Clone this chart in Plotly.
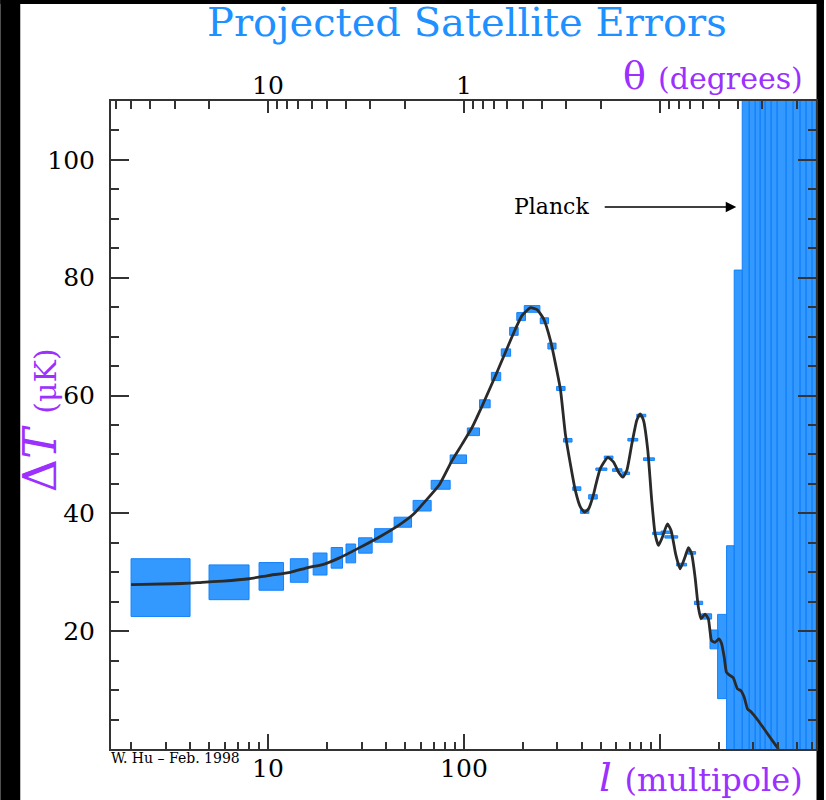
import plotly.graph_objects as go
import math

# ---------------- data ----------------
# theory curve: multipole l and Delta T (muK)
ell_curve = [2, 3.3, 4, 4.6, 5.9, 8, 10, 13, 16, 19, 23, 29, 37, 47, 55, 64, 75, 87, 98,
             110, 124, 145, 163, 183, 198, 218, 236, 255, 276, 293, 311, 329, 349, 370,
             393, 413, 433, 459, 468, 496, 542, 580, 615, 647, 678, 719, 762, 793, 824,
             867, 908, 945, 983, 1030, 1092, 1140, 1203, 1267, 1343, 1397, 1452, 1511,
             1570, 1621, 1699, 1766, 1835, 1910, 2000, 2063, 2128, 2187, 2275, 2366,
             2488, 2589, 2692, 2799, 2931, 3170, 3496, 3928, 4030]
dT_curve = [27.9, 28.05, 28.15, 28.3, 28.5, 28.9, 29.45, 30.0, 30.8, 31.3, 32.4, 34.1, 36.0,
            38.1, 39.8, 42.2, 44.9, 49.0, 51.8, 54.6, 58.3, 63.4, 67.4, 71.3, 73.6, 74.9,
            74.6, 73.0, 69.4, 65.4, 60.9, 53.5, 48.4, 43.9, 41.05, 40.2, 40.8, 43.3, 44.5,
            47.6, 49.5, 48.7, 47.0, 46.15, 47.3, 51.8, 55.8, 56.9, 55.8, 50.7, 42.2, 36.5,
            34.55, 36.0, 38.2, 37.1, 33.1, 30.6, 32.6, 34.2, 33.1, 29.2, 24.1, 22.1, 22.9,
            22.1, 18.4, 18.1, 18.7, 17.9, 15.6, 13.0, 12.5, 12.1, 10.2, 9.9, 8.8, 6.8, 6.25,
            4.84, 2.85, 0.48, 0.0]

# projected satellite (Planck) error boxes: bin edges, value, error
box_lo = [2, 5, 9, 13, 17, 21, 25, 29, 35, 44, 55, 68, 85, 104, 120, 138, 155, 171, 186,
          203, 245, 268, 297, 322, 359, 393, 433, 471, 520, 573, 640, 686, 762, 824, 918,
          1014, 1060, 1217, 1385, 1500, 1632, 1801, 1969, 2188, 2393, 2630, 2855, 3063,
          3247, 3443, 3693, 3962, 4404, 4780, 5189, 5566, 5971]
box_hi = [4, 8, 12, 16, 20, 24, 28, 34, 43, 54, 68, 85, 103, 120, 136, 154, 173, 189, 206,
          244, 270, 295, 328, 356, 395, 434, 479, 536, 576, 640, 700, 771, 847, 937, 1030,
          1140, 1232, 1368, 1521, 1652, 1835, 1985, 2188, 2393, 2630, 2855, 3063, 3247,
          3443, 3693, 3962, 4404, 4780, 5189, 5566, 5971, 6258]
box_val = [27.4, 28.3, 29.3, 30.3, 31.4, 32.45, 33.2, 34.55, 36.25, 38.5, 41.3, 44.85, 49.2,
           53.85, 58.6, 63.25, 67.3, 70.9, 73.4, 74.7, 72.7, 68.4, 61.2, 52.4, 44.2, 40.3,
           42.8, 47.5, 49.5, 47.35, 46.8, 52.5, 56.6, 49.2, 36.6, 36.8, 36.0, 31.3, 33.3,
           24.8, 22.5, 18.6, 15.7, 13.0, 10.0, 8.0, 6.5, 5.5, 4.5, 3.5, 2.5, 1.5, 1.0, 0.5,
           0.3, 0.2, 0.1]
box_err = [4.9, 2.95, 2.35, 2.0, 1.87, 1.75, 1.6, 1.3, 1.15, 0.85, 0.9, 0.75, 0.72, 0.65,
           0.68, 0.68, 0.62, 0.68, 0.68, 0.57, 0.5, 0.5, 0.34, 0.3, 0.3, 0.3, 0.37, 0.2,
           0.22, 0.22, 0.22, 0.22, 0.22, 0.22, 0.2, 0.2, 0.2, 0.22, 0.22, 0.28, 0.45, 1.6,
           7.15, 21.5, 71.3, 150, 180, 220, 260, 300, 350, 400, 460, 520, 600, 700, 800]

# axes ticks
y_major = [20, 40, 60, 80, 100]
y_minor = [5, 10, 15, 25, 30, 35, 45, 50, 55, 65, 70, 75, 85, 90, 95, 105]
ell_major = [10, 100, 1000]
ell_major_text = ["10", "100", ""]
ell_minor = [2, 3, 4, 5, 6, 7, 8, 9, 20, 30, 40, 50, 60, 70, 80, 90,
             200, 300, 400, 500, 600, 700, 800, 900, 2000, 3000, 4000, 5000, 6000]
theta_major = [10, 1, 0.1]
theta_major_text = ["10", "1", ""]
theta_minor = [60, 50, 40, 30, 20, 9, 8, 7, 6, 5, 4, 3, 2,
               0.9, 0.8, 0.7, 0.6, 0.5, 0.4, 0.3, 0.2,
               0.09, 0.08, 0.07, 0.06, 0.05, 0.04, 0.03, 0.02]

ELL_MIN, ELL_MAX = 1.58, 6258
Y_MIN, Y_MAX = 0, 110

# --------------- figure ---------------
BOX_FILL = "rgb(51,153,255)"
BOX_LINE = "rgb(20,130,250)"
AXC = "#333333"
PURPLE = "#9b30ff"
BLUE = "#1e90ff"
SERIF = "DejaVu Serif"

bx, by = [], []
for lo, hi, v, e in zip(box_lo, box_hi, box_val, box_err):
    bx += [lo, hi, hi, lo, lo, None]
    by += [v - e, v - e, v + e, v + e, v - e, None]

fig = go.Figure()
fig.add_trace(go.Scatter(x=bx, y=by, mode="lines", fill="toself", fillcolor=BOX_FILL,
                         line=dict(color=BOX_LINE, width=1), hoverinfo="skip",
                         showlegend=False))
fig.add_trace(go.Scatter(x=ell_curve, y=dT_curve, mode="lines",
                         line=dict(color="#2a2a2a", width=2.8, shape="spline", smoothing=0.5),
                         showlegend=False))
# invisible trace to activate the top (theta) axis
fig.add_trace(go.Scatter(x=[ell_curve[0]], y=[dT_curve[0]], xaxis="x2", mode="markers",
                         marker=dict(opacity=0), hoverinfo="skip", showlegend=False))

ML, MR, MT, MB = 111, 8, 101, 51
W, H = 826, 800
PW, PH = W - ML - MR, H - MT - MB


def px(x):
    return (x - ML) / PW


def py(y):
    return (H - MB - y) / PH


tickfont = dict(family=SERIF, size=25, color="black")

fig.update_layout(
    width=W, height=H,
    margin=dict(l=ML, r=MR, t=MT, b=MB, pad=0),
    paper_bgcolor="white", plot_bgcolor="white",
    xaxis=dict(type="log", range=[math.log10(ELL_MIN), math.log10(ELL_MAX)],
               tickmode="array", tickvals=ell_major, ticktext=ell_major_text,
               ticks="inside", ticklen=15, tickwidth=2, tickcolor=AXC,
               showline=True, linewidth=2, linecolor=AXC, mirror=False,
               showgrid=False, zeroline=False, tickfont=tickfont, ticklabelstandoff=-4,
               minor=dict(tickmode="array", tickvals=ell_minor, ticks="inside",
                          ticklen=7, tickwidth=2, tickcolor=AXC, showgrid=False)),
    xaxis2=dict(type="log", overlaying="x", side="top", anchor="y",
                range=[math.log10(ELL_MIN), math.log10(ELL_MAX)],
                tickmode="array", tickvals=[100 / t for t in theta_major],
                ticktext=theta_major_text,
                ticks="inside", ticklen=12, tickwidth=2, tickcolor=AXC,
                showline=True, linewidth=2, linecolor=AXC,
                showgrid=False, zeroline=False, tickfont=tickfont, ticklabelstandoff=-5,
                minor=dict(tickmode="array", tickvals=[100 / t for t in theta_minor],
                           ticks="inside", ticklen=8, tickwidth=2, tickcolor=AXC,
                           showgrid=False)),
    yaxis=dict(range=[Y_MIN, Y_MAX], tickmode="array", tickvals=y_major,
               ticks="inside", ticklen=18, tickwidth=2, tickcolor=AXC,
               showline=True, linewidth=2, linecolor=AXC, mirror="ticks",
               showgrid=False, zeroline=False, tickfont=tickfont, ticklabelstandoff=9,
               minor=dict(tickmode="array", tickvals=y_minor, ticks="inside",
                          ticklen=8, tickwidth=2, tickcolor=AXC, showgrid=False)),
    showlegend=False,
)

ann = []
ann.append(dict(text="Projected Satellite Errors", xref="paper", yref="paper",
                x=px(468), y=py(22), xanchor="center", yanchor="middle", showarrow=False,
                font=dict(family=SERIF, size=40, color=BLUE)))
ann.append(dict(text="θ <span style='font-size:30px'>(degrees)</span>", xref="paper",
                yref="paper", x=px(807), y=py(76), xanchor="right", yanchor="middle",
                showarrow=False, font=dict(family=SERIF, size=38, color=PURPLE)))
ann.append(dict(text="<i>l</i> <span style='font-size:32px'>(multipole)</span>", xref="paper",
                yref="paper", x=px(807), y=py(777), xanchor="right", yanchor="middle",
                showarrow=False, font=dict(family=SERIF, size=40, color=PURPLE)))
ann.append(dict(text="Δ<i>T</i> <span style='font-size:30px'>(μK)</span>", xref="paper",
                yref="paper", x=px(40), y=py(420), xanchor="center", yanchor="middle",
                textangle=-90, showarrow=False,
                font=dict(family=SERIF, size=46, color=PURPLE)))
ann.append(dict(text="W. Hu – Feb. 1998", xref="paper", yref="paper", x=px(109),
                y=py(758), xanchor="left", yanchor="middle", showarrow=False,
                font=dict(family=SERIF, size=14, color="black")))
ann.append(dict(text="Planck", xref="paper", yref="paper", x=px(553), y=py(207),
                xanchor="center", yanchor="middle", showarrow=False,
                font=dict(family=SERIF, size=22, color="black")))
ann.append(dict(text="", xref="paper", yref="paper", x=px(738), y=py(207),
                ax=-133, ay=0, showarrow=True, arrowhead=2, arrowsize=1.4,
                arrowwidth=1.5, arrowcolor="black", standoff=0))
fig.update_layout(annotations=ann)

# black frame around the page (left, top, right)
shapes = [
    dict(type="rect", xref="paper", yref="paper", x0=px(0), x1=px(20), y0=py(H), y1=py(0),
         fillcolor="black", line=dict(width=0), layer="below"),
    dict(type="rect", xref="paper", yref="paper", x0=px(0), x1=px(W), y0=py(4), y1=py(0),
         fillcolor="black", line=dict(width=0), layer="below"),
    dict(type="rect", xref="paper", yref="paper", x0=px(818.5), x1=px(W), y0=py(H), y1=py(0),
         fillcolor="black", line=dict(width=0), layer="below"),
]
fig.update_layout(shapes=shapes)

fig.write_html("out.html")
